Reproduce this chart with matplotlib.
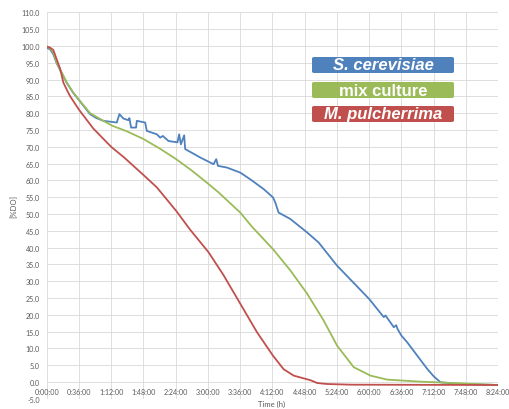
import matplotlib
matplotlib.use('Agg')
import matplotlib.pyplot as plt
from matplotlib.patches import FancyBboxPatch
from matplotlib.ticker import FuncFormatter, MultipleLocator

# time in minutes, dissolved oxygen in %
t_cer = [0, 3.7, 7.4, 11.2, 16.8, 22.4, 29.7, 37.2, 48.4, 55, 63.3, 78.3, 81.2, 85.6, 91.0, 92.4,
         94.2, 99.8, 100.6, 109.9, 111.8, 123.0, 126.7, 129.7, 136.0, 146.0, 147.9, 149.8, 153.5,
         154.6, 171.4, 186.3, 189.3, 191.2, 201.2, 216.1, 227.3, 242.2, 252.7, 255.2, 258.9,
         272.0, 290.7, 303.6, 324.2, 360, 374.5, 376.3, 378.2, 387.5, 390.2, 391.6, 396,
         402.5, 424.8, 432, 439.7, 462, 504]
do_cer = [99.4, 99.0, 97.5, 94.8, 91.9, 89.0, 86.0, 83.5, 79.7, 78.6, 77.7, 77.2, 79.7, 78.4, 77.9, 78.5,
          75.7, 75.7, 77.7, 77.2, 74.7, 73.7, 72.7, 73.2, 71.7, 71.3, 73.7, 70.7, 73.4,
          69.3, 66.8, 64.8, 66.3, 64.3, 63.8, 62.3, 60.3, 57.4, 54.9, 53.4, 50.4,
          48.5, 44.5, 41.5, 34.6, 24.7, 19.9, 19.3, 19.8, 16.3, 16.9, 15.8, 13.8,
          11.8, 3.9, 1.7, -0.1, -0.6, -0.9]

t_mix = [0, 3.7, 7.4, 11.2, 16.8, 22.4, 29.7, 37.2, 48.4, 60, 72.7, 89.4, 108, 126, 144.6, 162,
         180.7, 191.9, 216.1, 229.2, 252.7, 272, 290.7, 309.2, 324.2, 342.8, 361.4, 380.1,
         417.4, 436, 470, 504]
do_mix = [99.8, 99.3, 98.0, 95.0, 92.1, 89.1, 86.1, 83.6, 80.0, 78.2, 76.3, 74.6, 72.3, 69.5, 66.3, 62.9,
          58.9, 56.4, 50.4, 46.2, 39.5, 33.2, 26.3, 18.3, 10.8, 4.4, 1.9, 0.7,
          0.1, -0.1, -0.5, -0.9]

t_pul = [0, 3.7, 7.4, 11.2, 14.9, 18.6, 22.4, 26.0, 36.1, 48.4, 52.1, 67.1, 72.7, 85.6, 93.1,
         108, 123, 144.6, 160.2, 180.7, 197.4, 216.1, 234.8, 252.7, 264.5, 275.7, 294.8, 301.9,
         313, 340, 504]
do_pul = [99.8, 99.5, 98.8, 96.0, 93.3, 89.1, 87.0, 85.1, 81.0, 76.7, 75.4, 71.3, 69.8, 67.0, 65.2,
          61.6, 57.9, 50.9, 45.3, 38.6, 31.8, 23.3, 14.8, 7.8, 3.8, 1.9, 0.5, -0.3,
          -0.6, -0.8, -0.9]

labels = ['S. cerevisiae', 'mix culture', 'M. pulcherrima']
styles = ['italic', 'normal', 'italic']
colors = ['#4F81BD', '#9BBB59', '#C0504D']

fig = plt.figure(figsize=(5.09, 4.10), dpi=100)
ax = fig.add_axes([0.0917, 0.0249, 0.887, 0.9427])

ax.plot(t_cer, do_cer, color=colors[0], lw=1.3)
ax.plot(t_mix, do_mix, color=colors[1], lw=1.3)
ax.plot(t_pul, do_pul, color=colors[2], lw=1.3)

ax.set_xlim(0, 504)
ax.set_ylim(-5, 110)
ax.xaxis.set_major_locator(MultipleLocator(36))
ax.yaxis.set_major_locator(MultipleLocator(5))
ax.xaxis.set_major_formatter(FuncFormatter(lambda v, p: f"{int(v // 60)}:{int(v % 60):02d}:00"))
ax.yaxis.set_major_formatter(FuncFormatter(lambda v, p: f"{v:.1f}"))
ax.grid(True, color='#D9D9D9', lw=0.6)
ax.set_axisbelow(True)
for s in ax.spines.values():
    s.set_visible(False)
ax.spines['bottom'].set_position(('data', 0))
ax.tick_params(length=0, labelsize=5.1, labelcolor='#595959', labelfontfamily='Lato')
ax.tick_params(axis='y', pad=5)
ax.tick_params(axis='x', pad=4)

fig.text(0.534, 0.005, 'Time (h)', fontsize=5.5, color='#595959', family='Lato', ha='center', va='bottom')
fig.text(0.028, 0.497, '[%DO]', fontsize=5.5, color='#595959', family='Lato', rotation=90,
         ha='center', va='center')

# legend boxes
W, H = 509, 410
box_x0, box_x1 = 312, 454
centers = [66, 91, 115]
for lab, st, c, yc in zip(labels, styles, colors, centers):
    bh = 16
    patch = FancyBboxPatch((box_x0 / W, 1 - (yc + bh / 2) / H), (box_x1 - box_x0) / W, bh / H,
                           boxstyle='round,pad=0,rounding_size=0.004', transform=fig.transFigure,
                           facecolor=c, edgecolor='none')
    fig.patches.append(patch)
    fig.text((box_x0 + box_x1) / 2 / W, 1 - yc / H, lab, color='white', fontsize=12,
             fontweight='bold', fontstyle=st, family='Liberation Sans', ha='center', va='center')

plt.savefig('out.png', dpi=100)
